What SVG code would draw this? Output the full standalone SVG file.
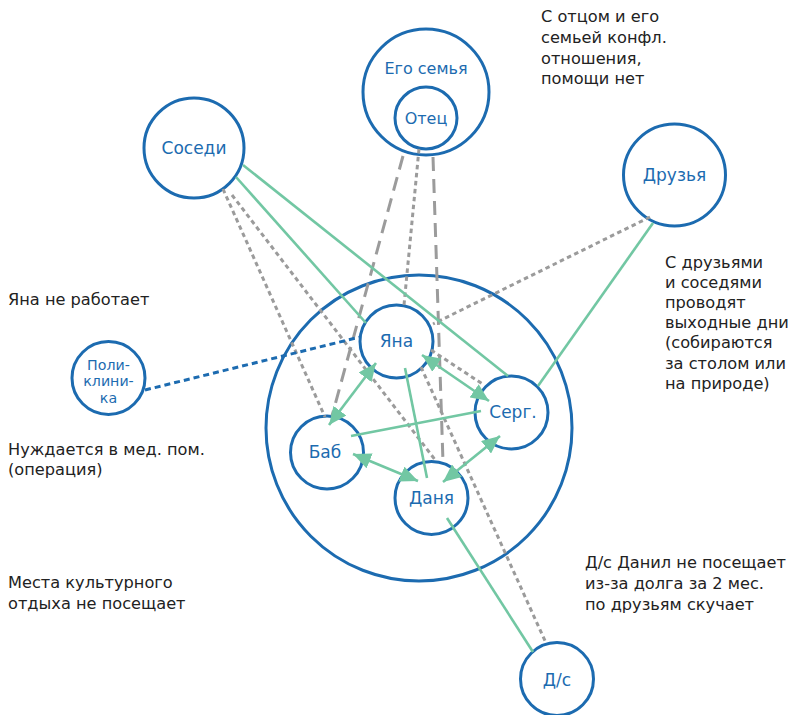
<svg xmlns="http://www.w3.org/2000/svg" width="797" height="715" viewBox="0 0 797 715">
<style>
.node{fill:#fff;stroke:#1c6bb0;stroke-width:3}
.ring{fill:none;stroke:#1c6bb0;stroke-width:3}
.nl{font-family:"DejaVu Sans","Open Sans",sans-serif;font-size:17px;fill:#1c6bb0;text-anchor:middle}
.md{font-size:16px}
.sm{font-size:14.2px}
.note{font-family:"DejaVu Sans","Open Sans",sans-serif;font-size:16.2px;fill:#222}
.g{stroke:#72c7a3;stroke-width:2.6;fill:none}
.ga{stroke:#72c7a3;stroke-width:2.6;fill:none;marker-start:url(#ah);marker-end:url(#ah)}
.dot{stroke:#9b9b9b;stroke-width:3;fill:none;stroke-dasharray:4.5 3.5}
.dash{stroke:#9b9b9b;stroke-width:3;fill:none;stroke-dasharray:14 8}
.bd{stroke:#1c6bb0;stroke-width:3;fill:none;stroke-dasharray:6 4}
</style>
<defs>
<marker id="ah" markerUnits="userSpaceOnUse" markerWidth="19" markerHeight="16" refX="18" refY="8" orient="auto-start-reverse">
<path d="M0,0 L18,8 L0,16 z" fill="#72c7a3"/>
</marker>
</defs>
<rect width="797" height="715" fill="#fff"/>
<g id="family-circle">
<circle class="ring" cx="419" cy="428" r="153"/>
</g>
<g id="ego-family">
<circle class="node" cx="426" cy="92" r="63"/>
<text class="nl md" x="426" y="74">Его семья</text>
</g>
<g id="father">
<circle class="node" cx="426" cy="118" r="31"/>
<text class="nl md" x="426" y="124">Отец</text>
</g>
<g id="neighbors">
<circle class="node" cx="194" cy="148" r="50"/>
<text class="nl" x="194" y="154">Соседи</text>
</g>
<g id="friends">
<circle class="node" cx="674.5" cy="175" r="51"/>
<text class="nl" x="674.5" y="181">Друзья</text>
</g>
<g id="clinic">
<circle class="node" cx="108.5" cy="378" r="36.5"/>
<text class="nl sm" x="108.5" y="369.5">Поли-</text>
<text class="nl sm" x="108.5" y="386">клини-</text>
<text class="nl sm" x="108.5" y="402.5">ка</text>
</g>
<g id="yana">
<circle class="node" cx="396.5" cy="341.5" r="36.5"/>
<text class="nl" x="396.5" y="347">Яна</text>
</g>
<g id="serg">
<circle class="node" cx="511.5" cy="412.5" r="36.5"/>
<text class="nl" x="513" y="418">Серг.</text>
</g>
<g id="bab">
<circle class="node" cx="327" cy="452.5" r="36.5"/>
<text class="nl" x="325" y="458">Баб</text>
</g>
<g id="danya">
<circle class="node" cx="431.5" cy="498" r="36.5"/>
<text class="nl" x="431.5" y="504">Даня</text>
</g>
<g id="kindergarten">
<circle class="node" cx="557" cy="679" r="36.5"/>
<text class="nl" x="557" y="686">Д/с</text>
</g>
<g id="connectors">
<line class="dash" x1="403" y1="156" x2="332" y2="416"/>
<line class="dash" x1="433" y1="157" x2="443" y2="462"/>
<line class="dot" x1="419" y1="149" x2="404" y2="305"/>
<line class="dot" x1="223" y1="189" x2="325" y2="417"/>
<line class="dot" x1="232" y1="195" x2="436" y2="461"/>
<line class="dot" x1="650" y1="217" x2="433" y2="324"/>
<line class="dot" x1="431" y1="350" x2="484" y2="385"/>
<line class="dot" x1="421" y1="367" x2="546" y2="643"/>
<line class="bd" x1="145" y1="390" x2="360" y2="337"/>
<line class="g" x1="236" y1="177" x2="366" y2="323"/>
<line class="g" x1="243" y1="165" x2="508" y2="376"/>
<line class="g" x1="653" y1="223" x2="538" y2="386"/>
<line class="g" x1="481" y1="411" x2="351" y2="436"/>
<line class="g" x1="405" y1="368" x2="427" y2="478"/>
<line class="g" x1="447" y1="518" x2="533" y2="652"/>
<line class="ga" x1="376" y1="363" x2="329" y2="425"/>
<line class="ga" x1="422" y1="355" x2="489" y2="401"/>
<line class="ga" x1="353" y1="454" x2="418" y2="481"/>
<line class="ga" x1="500" y1="436" x2="443" y2="482"/>
</g>
<g id="notes">
<text class="note" x="541" y="22">С отцом и его</text>
<text class="note" x="541" y="43">семьей конфл.</text>
<text class="note" x="541" y="64">отношения,</text>
<text class="note" x="541" y="84">помощи нет</text>
<text class="note" x="665" y="268">С друзьями</text>
<text class="note" x="665" y="288">и соседями</text>
<text class="note" x="665" y="308">проводят</text>
<text class="note" x="665" y="328">выходные дни</text>
<text class="note" x="665" y="348">(собираются</text>
<text class="note" x="665" y="369">за столом или</text>
<text class="note" x="665" y="389">на природе)</text>
<text class="note" x="8" y="305">Яна не работает</text>
<text class="note" x="8" y="455">Нуждается в мед. пом.</text>
<text class="note" x="8" y="475">(операция)</text>
<text class="note" x="8" y="588">Места культурного</text>
<text class="note" x="8" y="609">отдыха не посещает</text>
<text class="note" x="585" y="568">Д/с Данил не посещает</text>
<text class="note" x="585" y="589">из-за долга за 2 мес.</text>
<text class="note" x="585" y="610">по друзьям скучает</text>
</g>
</svg>
